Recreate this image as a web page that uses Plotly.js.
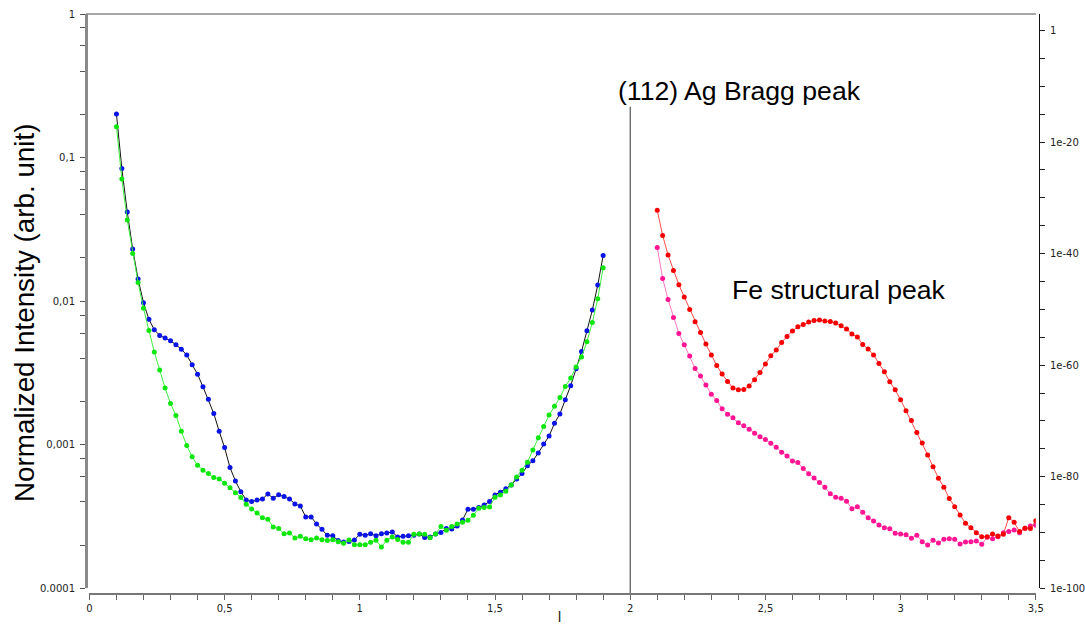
<!DOCTYPE html>
<html>
<head>
<meta charset="utf-8">
<script src="https://cdn.plot.ly/plotly-3.0.1.min.js"></script>
<style>html,body{margin:0;padding:0;background:#fff;overflow:hidden;}</style>
</head>
<body>
<div id="chart" style="width:1085px;height:626px;"></div>
<script>
// ---------- data ----------
const lLeft = [0.10,0.12,0.14,0.16,0.18,0.20,0.22,0.24,0.26,0.28,
  0.30,0.32,0.34,0.36,0.38,0.40,0.42,0.44,0.46,0.48,
  0.50,0.52,0.54,0.56,0.58,0.60,0.62,0.64,0.66,0.68,
  0.70,0.72,0.74,0.76,0.78,0.80,0.82,0.84,0.86,0.88,
  0.90,0.92,0.94,0.96,0.98,1.00,1.02,1.04,1.06,1.08,
  1.10,1.12,1.14,1.16,1.18,1.20,1.22,1.24,1.26,1.28,
  1.30,1.32,1.34,1.36,1.38,1.40,1.42,1.44,1.46,1.48,
  1.50,1.52,1.54,1.56,1.58,1.60,1.62,1.64,1.66,1.68,
  1.70,1.72,1.74,1.76,1.78,1.80,1.82,1.84,1.86,1.88,
  1.90];

const blueIntensity = [0.201,0.0838,0.0418,0.0231,0.01426,0.00975,0.00748,0.00632,0.00577,0.00553,
  0.00530,0.00497,0.00463,0.00421,0.00361,0.00310,0.00253,0.00207,0.00165,0.00124,
  0.000955,0.000693,0.000560,0.000471,0.000412,0.000402,0.000412,0.000419,0.000454,0.000424,
  0.000449,0.000436,0.000419,0.000387,0.000375,0.000314,0.000314,0.000281,0.000258,0.000234,
  0.000232,0.000215,0.000210,0.000212,0.000217,0.000238,0.000234,0.000240,0.000232,0.000240,
  0.000243,0.000247,0.000228,0.000230,0.000232,0.000234,0.000239,0.000226,0.000228,0.000239,
  0.000245,0.000261,0.000259,0.000272,0.000299,0.000356,0.000356,0.000365,0.000381,0.000402,
  0.000447,0.000467,0.000494,0.000525,0.000578,0.000630,0.000713,0.000774,0.000877,0.00101,
  0.00115,0.00141,0.00164,0.00206,0.00258,0.00338,0.00446,0.00622,0.00867,0.01294,
  0.0208];

const greenIntensity = [0.164,0.0710,0.0367,0.0215,0.0135,0.00891,0.00625,0.00442,0.00331,0.00248,
  0.00194,0.00160,0.00124,0.000986,0.000826,0.000719,0.000665,0.000630,0.000590,0.000578,
  0.000540,0.000502,0.000463,0.000429,0.000385,0.000357,0.000335,0.000310,0.000303,0.000267,
  0.000261,0.000240,0.000243,0.000224,0.000230,0.000221,0.000218,0.000224,0.000218,0.000215,
  0.000218,0.000211,0.000206,0.000217,0.000201,0.000201,0.000201,0.000209,0.000216,0.000194,
  0.000216,0.000228,0.000219,0.000209,0.000209,0.000238,0.000239,0.000238,0.000225,0.000239,
  0.000269,0.000254,0.000269,0.000281,0.000288,0.000298,0.000323,0.000361,0.000365,0.000369,
  0.000431,0.000447,0.000474,0.000525,0.000597,0.000665,0.000755,0.000920,0.00112,0.00134,
  0.00161,0.00185,0.00213,0.00254,0.00292,0.00348,0.00409,0.00521,0.00711,0.0104,
  0.0171];

const lRight = [2.10,2.12,2.14,2.16,2.18,2.20,2.22,2.24,2.26,2.28,
  2.30,2.32,2.34,2.36,2.38,2.40,2.42,2.44,2.46,2.48,
  2.50,2.52,2.54,2.56,2.58,2.60,2.62,2.64,2.66,2.68,
  2.70,2.72,2.74,2.76,2.78,2.80,2.82,2.84,2.86,2.88,
  2.90,2.92,2.94,2.96,2.98,3.00,3.02,3.04,3.06,3.08,
  3.10,3.12,3.14,3.16,3.18,3.20,3.22,3.24,3.26,3.28,
  3.30,3.32,3.34,3.36,3.38,3.40,3.42,3.44,3.46,3.48,
  3.50];

const redIntensity = [5.75e-33,1.86e-37,5.62e-41,9.77e-44,2.63e-46,1.66e-48,9.77e-51,6.03e-53,7.24e-55,6.03e-57,
  6.46e-59,8.71e-61,2.51e-62,1.17e-63,7.76e-65,3.80e-65,4.37e-65,1.78e-64,2.40e-63,4.90e-62,
  1.55e-60,4.79e-59,5.13e-58,1.17e-56,1.41e-55,1.32e-54,7.76e-54,2.00e-53,5.37e-53,1.05e-52,
  1.23e-52,8.13e-53,6.92e-53,3.55e-53,1.17e-53,2.95e-54,3.80e-55,1.10e-55,5.13e-57,7.76e-58,
  6.46e-59,2.00e-60,6.46e-62,1.05e-63,3.80e-65,6.17e-67,6.46e-69,1.17e-70,8.32e-73,1.17e-74,
  8.32e-77,5.89e-79,5.50e-81,1.32e-82,1.20e-84,4.37e-86,1.41e-87,4.57e-89,7.41e-90,9.55e-91,
  1.82e-91,1.82e-91,5.50e-91,2.40e-91,5.01e-91,4.68e-88,6.92e-89,1.45e-90,5.89e-90,5.01e-90,
  1.35e-88];

const pinkIntensity = [1.32e-39,3.55e-45,6.17e-49,3.63e-52,4.90e-55,4.57e-57,4.27e-59,2.51e-61,1.10e-62,2.69e-64,
  6.46e-66,4.57e-67,1.48e-68,1.66e-69,3.63e-70,4.57e-71,1.32e-71,3.39e-72,6.46e-73,1.41e-73,
  4.57e-74,1.05e-74,2.00e-75,2.51e-76,5.50e-77,6.92e-78,3.47e-78,2.88e-79,3.55e-80,6.17e-81,
  8.91e-82,1.26e-82,8.91e-84,2.00e-84,1.41e-84,4.07e-85,1.91e-86,4.37e-86,4.37e-87,4.68e-88,
  1.20e-88,2.29e-89,7.41e-90,4.90e-90,7.41e-91,5.50e-91,4.17e-91,9.33e-92,3.24e-91,2.29e-92,
  5.89e-93,4.07e-92,1.35e-92,6.17e-92,7.94e-92,6.17e-92,8.91e-93,2.04e-92,2.29e-92,3.09e-92,
  7.94e-93,1.41e-91,7.94e-92,1.82e-91,9.55e-91,1.45e-90,2.88e-90,9.55e-91,5.89e-90,1.51e-89,
  2.00e-89];

// ---------- tick labels ----------
const xMajorVals = [0,0.5,1,1.5,2,2.5,3,3.5];
const xMajorText = ["0","0,5","1","1,5","2","2,5","3","3,5"];
const xMinorVals = [0.1,0.2,0.3,0.4,0.6,0.7,0.8,0.9,1.1,1.2,1.3,1.4,1.6,1.7,1.8,1.9,
  2.1,2.2,2.3,2.4,2.6,2.7,2.8,2.9,3.1,3.2,3.3,3.4];

const leftMajorVals = [0.0001,0.001,0.01,0.1,1];
const leftMajorText = ["0.0001","0,001","0,01","0,1","1"];
const leftMinorVals = [0.0002,0.0004,0.0006,0.0008,0.002,0.004,0.006,0.008,
  0.02,0.04,0.06,0.08,0.2,0.4,0.6,0.8];

const rightMajorVals = [1e-100,1e-80,1e-60,1e-40,1e-20,1];
const rightMajorText = ["1e-100","1e-80","1e-60","1e-40","1e-20","1"];
const rightMinorVals = [1e-95,1e-90,1e-85,1e-75,1e-70,1e-65,1e-55,1e-50,1e-45,
  1e-35,1e-30,1e-25,1e-15,1e-10,1e-5];

const yTitle = "Normalized Intensity (arb. unit)";
const xTitle = "l";
const braggLabel = "(112) Ag Bragg peak";
const feLabel = "Fe structural peak";
const braggPosition = 2;

// ---------- traces ----------
const traces = [
  {x: lLeft, y: blueIntensity, type: 'scatter', mode: 'lines+markers', yaxis: 'y',
   line: {color: '#111111', width: 1}, marker: {color: '#0a14e6', size: 5}},
  {x: lLeft, y: greenIntensity, type: 'scatter', mode: 'lines+markers', yaxis: 'y',
   line: {color: '#3cf03c', width: 1}, marker: {color: '#0ee60e', size: 5}},
  {x: lRight, y: pinkIntensity, type: 'scatter', mode: 'lines+markers', yaxis: 'y2',
   line: {color: '#ff77c4', width: 1}, marker: {color: '#ff1493', size: 5}},
  {x: lRight, y: redIntensity, type: 'scatter', mode: 'lines+markers', yaxis: 'y2',
   line: {color: '#ff4a4a', width: 1}, marker: {color: '#f50000', size: 5}}
];

// geometry (pixels)
const W = 1085, H = 626;
const mL = 86, mR = 46, mT = 14, mB = 33;
const plotW = W - mL - mR, plotH = H - mT - mB;
const px = p => (p - mL) / plotW;
const py = p => (H - mB - p) / plotH;

const tickFont = {family: 'DejaVu Sans, Verdana, sans-serif', size: 10, color: '#222'};

const layout = {
  width: W, height: H,
  margin: {l: mL, r: mR, t: mT, b: mB, pad: 0},
  paper_bgcolor: '#ffffff', plot_bgcolor: '#ffffff',
  showlegend: false,
  xaxis: {
    type: 'linear', range: [0, 3.5], domain: [px(89.4), px(1035.8)],
    anchor: 'free', position: 0,
    showline: true, linecolor: '#777777', linewidth: 1.5,
    showgrid: false, zeroline: false,
    ticks: 'outside', ticklen: 5, tickwidth: 1, tickcolor: '#666666',
    tickmode: 'array',
    tickvals: xMajorVals.concat(xMinorVals),
    ticktext: xMajorText.concat(xMinorVals.map(() => '')),
    tickfont: tickFont
  },
  yaxis: {
    type: 'log', range: [-4, 0], domain: [py(588.3), 1],
    anchor: 'free', position: 0, side: 'left',
    showline: true, linecolor: '#8a8a8a', linewidth: 2.5,
    showgrid: false, zeroline: false,
    ticks: 'outside', ticklen: 5, tickwidth: 1, tickcolor: '#555555',
    tickmode: 'array',
    tickvals: leftMajorVals.concat(leftMinorVals),
    ticktext: leftMajorText.concat(leftMinorVals.map(() => '')),
    tickfont: tickFont, ticklabelstandoff: 3
  },
  yaxis2: {
    type: 'log', range: [-100, 2.96], domain: [py(588.3), 1],
    overlaying: 'y', side: 'right', anchor: 'free', position: 1,
    showline: true, linecolor: '#111111', linewidth: 1,
    showgrid: false, zeroline: false,
    ticks: 'outside', ticklen: 5, tickwidth: 1, tickcolor: '#222222',
    tickmode: 'array',
    tickvals: rightMajorVals.concat(rightMinorVals),
    ticktext: rightMajorText.concat(rightMinorVals.map(() => '')),
    tickfont: tickFont, ticklabelstandoff: 3
  },
  shapes: [
    {type: 'line', xref: 'x', yref: 'paper', x0: braggPosition, x1: braggPosition,
     y0: 0, y1: py(106.7), line: {color: '#333333', width: 1}},
    {type: 'line', xref: 'paper', yref: 'paper', x0: 0, x1: px(1036), y0: 1, y1: 1,
     line: {color: '#8a8a8a', width: 1.5}}
  ],
  annotations: [
    {text: yTitle, xref: 'paper', yref: 'paper', x: px(24), y: py(313),
     xanchor: 'center', yanchor: 'middle', textangle: -90, showarrow: false,
     font: {family: 'Liberation Sans, Arial, sans-serif', size: 27.8, color: '#000'}},
    {text: braggLabel, xref: 'paper', yref: 'paper', x: px(739), y: py(91),
     xanchor: 'center', yanchor: 'middle', showarrow: false,
     font: {family: 'Liberation Sans, Arial, sans-serif', size: 26.6, color: '#000'}},
    {text: feLabel, xref: 'paper', yref: 'paper', x: px(839), y: py(290),
     xanchor: 'center', yanchor: 'middle', showarrow: false,
     font: {family: 'Liberation Sans, Arial, sans-serif', size: 26.6, color: '#000'}},
    {text: xTitle, xref: 'paper', yref: 'paper', x: px(559), y: py(625.5),
     xanchor: 'center', yanchor: 'bottom', showarrow: false, borderpad: 0,
     font: {family: 'Liberation Sans, Arial, sans-serif', size: 14, color: '#111'}}
  ]
};

Plotly.newPlot('chart', traces, layout, {staticPlot: true, displayModeBar: false});
</script>
</body>
</html>
